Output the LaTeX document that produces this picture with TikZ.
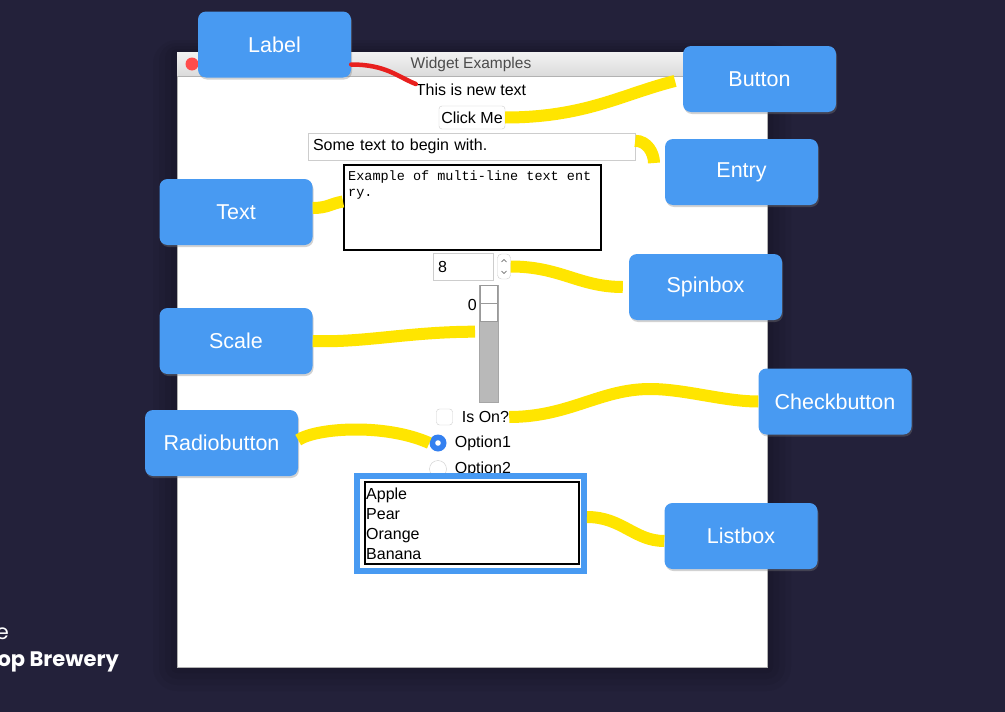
\documentclass[tikz,border=0pt]{standalone}
\usepackage{fontspec}
\setmainfont{Liberation Sans}
\setmonofont{Liberation Mono}
\newfontfamily\brand{Poppins}
\usetikzlibrary{shapes,arrows,positioning,fit,shadows}
\definecolor{night}{RGB}{35,33,58}
\definecolor{callblue}{RGB}{72,154,242}
\definecolor{hilite}{RGB}{255,229,0}
\definecolor{redpen}{RGB}{232,32,30}
\definecolor{edge}{RGB}{205,205,205}
\definecolor{trough}{RGB}{185,185,185}
\definecolor{radioblue}{RGB}{52,128,240}
\def\wfont{\fontsize{16}{18}\selectfont}
\tikzstyle{callout} = [fill=callblue,rounded corners=8pt,minimum width=153pt,minimum height=66pt,inner sep=0,text=white,font=\fontsize{21.5}{24}\selectfont,drop shadow={opacity=0.35,shadow xshift=1pt,shadow yshift=-2pt}]
\tikzstyle{widget} = [draw=edge,fill=white,inner sep=0,font=\wfont]
\tikzstyle{plain} = [inner sep=0,font=\wfont]
\tikzstyle{marker} = [draw=hilite,line width=12pt]
\tikzstyle{pen} = [draw=redpen,line width=4.5pt,line cap=round]

\begin{document}
\begin{tikzpicture}[x=1pt,y=-1pt,node distance=8pt]
      \useasboundingbox (0,0) rectangle (1005,712);
      \fill[night] (0,0) rectangle (1005,712);
      % window and its shadow
      \foreach \d in {24,18,12,6}
        \fill[black,opacity=0.05,rounded corners=\d pt] ({177-\d},{52-\d/2}) rectangle ({767+\d},{667+\d});
      \node[draw=gray!60,fill=white,minimum width=590pt,minimum height=615pt,inner sep=0,anchor=north west] (win) at (177,52) {};
      \shade[top color=gray!10,bottom color=gray!28] (win.north west) rectangle ++(590,24);
      \draw[gray!60] ([yshift=-24pt]win.north west) -- ([yshift=-24pt]win.north east);
      \fill[red!70!white] (192,64) circle (6.5pt);
      \node[font=\fontsize{15.5}{17}\selectfont,text=black!70] (title) at (471,64) {Widget Examples};
      % widgets
      \node[plain] (newtext) at (471,90) {This is new text};
      \node[widget,rounded corners=3pt,minimum width=66pt,minimum height=23pt] (clickme) at (472,117.5) {Click Me};
      \node[widget,minimum height=27pt,text width=317pt,inner xsep=5pt,align=left] (entry) at (471.5,146.5) {Some text to begin with.};
      \node[draw=black,line width=2pt,fill=white,minimum width=257pt,minimum height=85pt,inner sep=0,anchor=north west] (txt) at (343,164) {};
      \node[anchor=north west,inner sep=0,align=left,font=\ttfamily\fontsize{13.5}{16}\selectfont] (txtbody) at ([xshift=5pt,yshift=-7pt]txt.north west) {Example of multi-line text ent\\ry.};
      \node[widget,minimum height=27pt,text width=50pt,inner xsep=5pt,align=left] (spin) at (463,266.5) {8};
      \node[widget,rounded corners=4pt,minimum width=13pt,minimum height=25pt] (spinarrow) at (504,266.5) {};
      \draw[black!70,thin] (501.5,262) -- (504,259.5) -- (506.5,262);
      \draw[black!70,thin] (501.5,271) -- (504,273.5) -- (506.5,271);
      \node[draw=gray!70,fill=trough,minimum width=19pt,minimum height=117pt,inner sep=0,anchor=north west] (trough) at (479,285) {};
      \node[widget,draw=gray!80,minimum width=17pt,minimum height=36pt,anchor=north] (slider) at (trough.north) {};
      \draw[gray!80] (slider.west) -- (slider.east);
      \node[plain,left=3pt of slider,yshift=-2pt] (scaleval) {0};
      \node[widget,rounded corners=3pt,minimum size=16pt] (chk) at (444.5,417) {};
      \node[plain,right=9pt of chk] (ison) {Is On?};
      \node[circle,fill=radioblue,minimum size=17pt,inner sep=0] (opt1) at (438,443) {};
      \fill[white] (opt1) circle (2.8pt);
      \node[plain,right=8pt of opt1] (opt1txt) {Option1};
      \node[circle,draw=edge,fill=white,minimum size=17pt,inner sep=0] (opt2) at (438,469) {};
      \node[plain,right=8pt of opt2] (opt2txt) {Option2};
      % listbox
      \node[draw=callblue,line width=6pt,fill=white,minimum width=227pt,minimum height=95pt,inner sep=0] (lb) at (470.5,523.5) {};
      \node[draw=black,line width=1.4pt,minimum width=214pt,minimum height=82pt,inner sep=0] (lbin) at (472,523) {};
      \foreach \fruit [count=\i] in {Apple,Pear,Orange,Banana}
        \node[plain,anchor=base west] (fruit\i) at (366,{479+20*\i}) {\fruit};
      % brand text
      \node[anchor=base east,inner sep=0,text=white,font=\brand\fontsize{21}{24}\selectfont] (brandtop) at (9,639) {e};
      \node[anchor=base east,inner sep=0,text=white,font=\brand\bfseries\fontsize{21}{24}\selectfont] (brandbot) at (119,666) {op Brewery};
      % callouts
      \node[callout] (clabel) at (274.5,44.5) {Label};
      \node[callout] (cbutton) at (759.5,79) {Button};
      \node[callout] (centry) at (741.5,172) {Entry};
      \node[callout] (cspin) at (705.5,287) {Spinbox};
      \node[callout] (ctext) at (236,212) {Text};
      \node[callout] (cscale) at (236,341) {Scale};
      \node[callout] (cradio) at (221.5,443) {Radiobutton};
      \node[callout] (ccheck) at (835,401.5) {Checkbutton};
      \node[callout] (clist) at (741,536) {Listbox};
      % marks
      \coordinate (entrytip) at (654,163);
      \coordinate (chkpeak) at (650,389);
      \draw[pen] ([yshift=-20pt]clabel.east) .. controls +(35,0) and +(-18,-7) .. (newtext.north west);
      \draw[marker,shorten >=8pt] (clickme.east) .. controls +(80,0) and +(-60,15) .. (cbutton.west);
      \draw[marker] ([yshift=-8pt]entry.north east) .. controls +(12,0) and +(0,-10) .. (entrytip);
      \draw[marker] ([yshift=4pt]ctext.east) .. controls +(15,0) and +(-12,2) .. ([yshift=6pt]txt.west);
      \draw[marker,shorten >=4pt] (cscale.east) .. controls +(50,2) and +(-70,0) .. ([yshift=12pt]trough.west);
      \draw[marker,shorten >=6pt] (spinarrow.east) .. controls +(50,0) and +(-50,0) .. (cspin.west);
      \draw[marker] (ison.east) .. controls +(60,0) and +(-50,0) .. (chkpeak) .. controls +(35,0) and +(-35,0) .. (ccheck.west);
      \draw[marker] ([yshift=3pt]cradio.east) .. controls +(18,-12) and +(-45,-20) .. (opt1.west);
      \draw[marker] ([yshift=6.5pt]lb.east) .. controls +(35,0) and +(-30,0) .. ([yshift=-5pt]clist.west);
    \end{tikzpicture}
\end{document}
